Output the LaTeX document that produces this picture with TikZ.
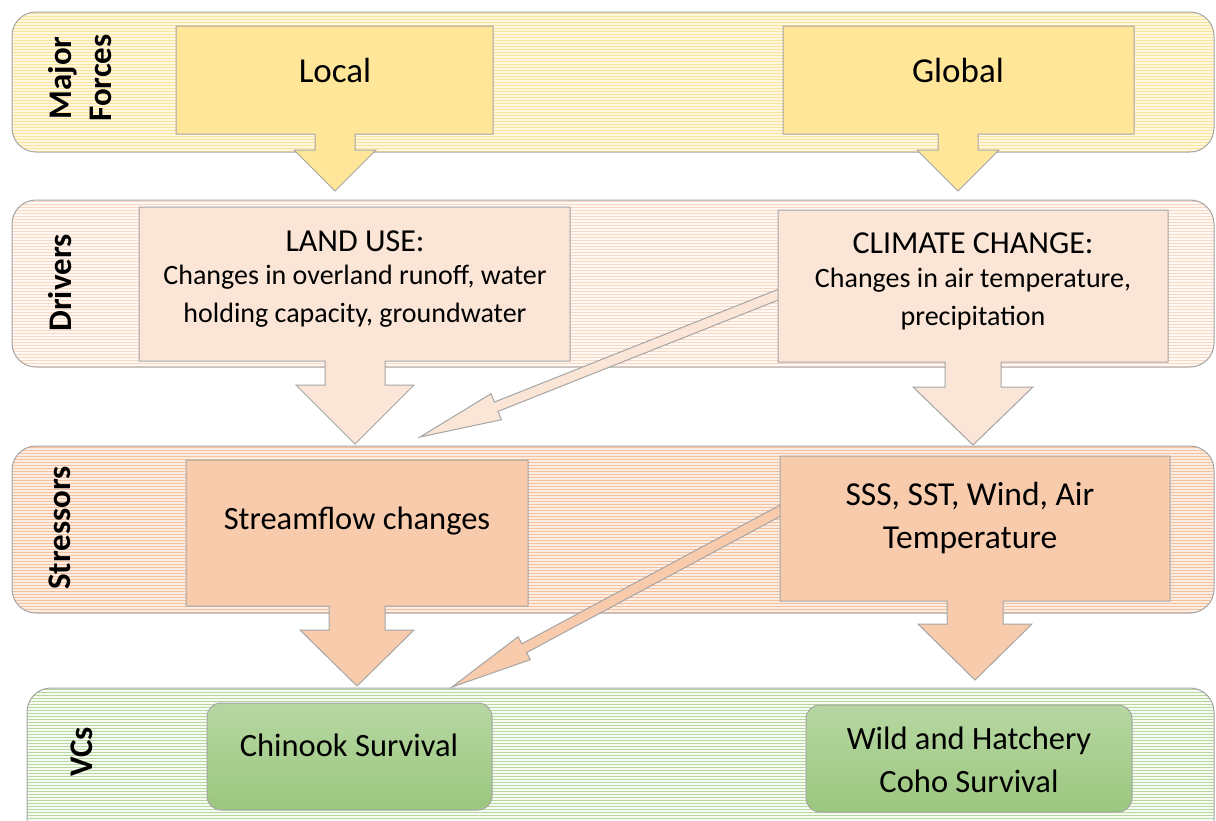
\documentclass[tikz,border=0pt]{standalone}
\usepackage{fontspec}
\setmainfont{Carlito}
\usetikzlibrary{calc}
\definecolor{outline}{HTML}{A5A5A5}
\definecolor{yelbase}{HTML}{FFF7DE}
\definecolor{yelstripe}{HTML}{FCE29A}
\definecolor{yelbox}{HTML}{FFE699}
\definecolor{pchbase}{HTML}{FFF8F3}
\definecolor{pchstripe}{HTML}{F9D8C3}
\definecolor{pchbox}{HTML}{FBE5D6}
\definecolor{orgbase}{HTML}{FDEDE3}
\definecolor{orgstripe}{HTML}{F5C09C}
\definecolor{orgbox}{HTML}{F8CBAD}
\definecolor{grnbase}{HTML}{F7FBF4}
\definecolor{grnstripe}{HTML}{B5D89E}
\definecolor{grntop}{HTML}{B6D7A2}
\definecolor{grnbot}{HTML}{9CC77F}
\newcommand\myband[6]{%
  \begin{scope}
    \clip[rounded corners=24pt] (#1,#2) rectangle (#3,#4);
    \fill[#5] (#1,#2) rectangle (#3,#4);
    \foreach \k in {0,...,60}
      \draw[#6, line width=1.6pt] (#1,{#2+3*\k+1.5}) -- (#3,{#2+3*\k+1.5});
  \end{scope}
  \draw[outl, rounded corners=24pt] (#1,#2) rectangle (#3,#4);
}
\newcommand\blockarrow[5]{% start, tip, fill, shaft half, head half
  \coordinate (ba-h) at ($(#2)!82pt!(#1)$);
  \filldraw[outl, fill=#3]
    ($(#1)!#4!90:(#2)$) -- ($(ba-h)!#4!-90:(#1)$) -- ($(ba-h)!#5!-90:(#1)$) -- (#2)
    -- ($(ba-h)!#5!90:(#1)$) -- ($(ba-h)!#4!90:(#1)$) -- ($(#1)!#4!-90:(#2)$) -- cycle;
}
\begin{document}
\begin{tikzpicture}[x=1pt,y=-1pt,
  outl/.style={draw=outline, line width=1pt},
  lbl/.style={font=\bfseries\fontsize{33}{40}\selectfont, rotate=90, align=center, inner sep=0pt},
  big/.style={font=\fontsize{35}{40}\selectfont, inner sep=0pt},
  hd/.style={font=\fontsize{32}{36}\selectfont, inner sep=0pt},
  sm/.style={font=\fontsize{28}{38}\selectfont, align=center, inner sep=0pt},
  mid/.style={font=\fontsize{32.5}{43}\selectfont, align=center, inner sep=0pt},
]
\useasboundingbox (0,0) rectangle (1216,820);
\fill[white] (0,0) rectangle (1216,820);

% bands
\myband{12}{12}{1214}{152}{yelbase}{yelstripe}
\myband{12}{200}{1214}{367}{pchbase}{pchstripe}
\myband{12}{446}{1214}{613}{orgbase}{orgstripe}
\myband{27}{688}{1214}{860}{grnbase}{grnstripe}

% band labels
\node[lbl] (lmajor) at (80,78) {Major\\Forces};
\node[lbl] (ldrivers) at (60,283) {Drivers};
\node[lbl] (lstress) at (60,528) {Stressors};
\node[lbl] (lvcs) at (82,752) {VCs};

% diagonal arrows (behind boxes)
\coordinate (d1s) at (800,286);
\coordinate (d1t) at (420,437);
\coordinate (d2s) at (800,500);
\coordinate (d2t) at (452,687);
\blockarrow{d1s}{d1t}{pchbox}{5pt}{14pt}
\blockarrow{d2s}{d2t}{orgbox}{5pt}{13pt}

% Major forces
\filldraw[outl, fill=yelbox] (176,26) -- (493,26) -- (493,134) -- (355,134) -- (355,150) -- (376,150) -- (335,191) -- (294,150) -- (315,150) -- (315,134) -- (176,134) -- cycle;
\filldraw[outl, fill=yelbox] (783,26) -- (1134,26) -- (1134,134) -- (978,134) -- (978,150) -- (999,150) -- (958,191) -- (917,150) -- (938,150) -- (938,134) -- (783,134) -- cycle;
\node[big] (local) at (335,70) {Local};
\node[big] (global) at (958,70) {Global};

% Drivers
\filldraw[outl, fill=pchbox] (139,207) -- (570,207) -- (570,361) -- (385,361) -- (385,385) -- (414,385) -- (355,444) -- (296,385) -- (325,385) -- (325,361) -- (139,361) -- cycle;
\filldraw[outl, fill=pchbox] (778,210) -- (1168,210) -- (1168,362) -- (1001,362) -- (1001,387) -- (1033,387) -- (973,445) -- (913,387) -- (945,387) -- (945,362) -- (778,362) -- cycle;
\node[hd] (landuse) at (355,241) {LAND USE:};
\node[sm] (landtxt) at (355,296) {Changes in overland runoff, water\\holding capacity, groundwater};
\node[hd] (climate) at (973,243) {CLIMATE CHANGE:};
\node[sm] (climtxt) at (973,299) {Changes in air temperature,\\precipitation};

% Stressors
\filldraw[outl, fill=orgbox] (186,460) -- (528,460) -- (528,606) -- (385,606) -- (385,630) -- (414,630) -- (357,686) -- (300,630) -- (329,630) -- (329,606) -- (186,606) -- cycle;
\filldraw[outl, fill=orgbox] (780,456) -- (1170,456) -- (1170,601) -- (1003,601) -- (1003,624) -- (1032,624) -- (975,680) -- (918,624) -- (947,624) -- (947,601) -- (780,601) -- cycle;
\node[mid] (stream) at (357,521) {Streamflow changes};
\node[mid, font=\fontsize{33.5}{43}\selectfont] (sss) at (970,518) {SSS, SST, Wind, Air\\Temperature};

% VCs
\draw[outl, rounded corners=14pt, top color=grntop, bottom color=grnbot] (207,703) rectangle (492,810);
\draw[outl, rounded corners=14pt, top color=grntop, bottom color=grnbot] (806,705) rectangle (1132,812);
\node[mid] (chinook) at (349,745) {Chinook Survival};
\node[mid] (coho) at (969,760) {Wild and Hatchery\\Coho Survival};
\end{tikzpicture}
\end{document}
